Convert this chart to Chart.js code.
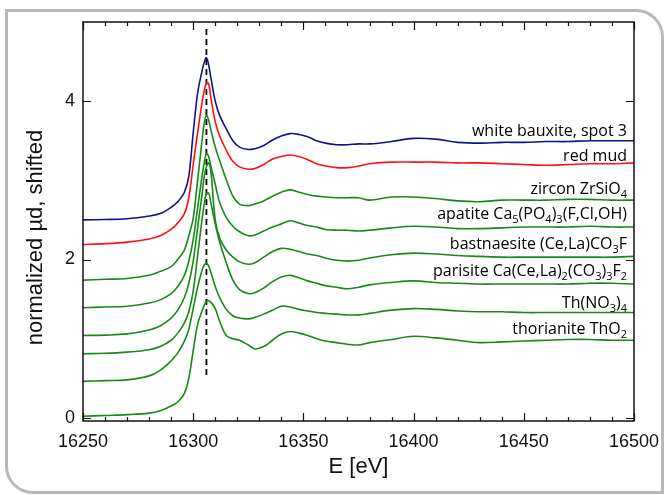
<!DOCTYPE html>
<html>
<head>
<meta charset="utf-8">
<script src="https://cdn.jsdelivr.net/npm/chart.js@4.4.0/dist/chart.umd.min.js"></script>
<style>
html,body{margin:0;padding:0;background:#fff;}
#wrap{position:relative;width:665px;height:495px;overflow:hidden;}
#frame{position:absolute;left:5px;top:9px;width:659px;height:485px;box-sizing:border-box;border:3px solid #b8b8b8;border-radius:0 28px 0 28px;}
#c{position:absolute;left:0;top:0;}
</style>
</head>
<body>
<div id="wrap"><div id="frame"></div><canvas id="c" width="665" height="495"></canvas></div>
<script>
// ---------- data ----------
const energy = [16250,16260,16270,16280,16285,16290,16293,16296,16298,16300,16302,16304,16305,16306,16307,16308,16310,16312,16315,16318,16321,16325,16328,16332,16336,16340,16344,16348,16352,16356,16360,16365,16370,16375,16380,16390,16400,16410,16420,16430,16440,16450,16460,16470,16480,16490,16500];

const whiteBauxite = [2.50,2.505,2.515,2.55,2.58,2.66,2.73,2.85,3.05,3.60,4.10,4.38,4.49,4.55,4.46,4.30,4.00,3.82,3.65,3.50,3.42,3.39,3.40,3.44,3.51,3.56,3.59,3.58,3.55,3.50,3.47,3.45,3.45,3.46,3.46,3.49,3.53,3.52,3.48,3.47,3.48,3.48,3.49,3.49,3.50,3.50,3.50];
const redMud = [2.19,2.20,2.22,2.26,2.30,2.38,2.46,2.58,2.78,3.20,3.60,3.98,4.13,4.23,4.22,4.05,3.74,3.56,3.38,3.24,3.17,3.14,3.15,3.20,3.27,3.30,3.32,3.30,3.26,3.21,3.18,3.16,3.16,3.18,3.21,3.23,3.23,3.23,3.22,3.22,3.21,3.20,3.19,3.20,3.21,3.21,3.22];
const zircon = [1.74,1.75,1.76,1.80,1.85,1.91,2.00,2.12,2.30,2.52,3.00,3.50,3.72,3.82,3.76,3.64,3.42,3.25,3.01,2.80,2.70,2.68,2.70,2.74,2.80,2.85,2.88,2.85,2.82,2.80,2.79,2.78,2.78,2.78,2.75,2.79,2.79,2.77,2.74,2.73,2.75,2.75,2.75,2.76,2.76,2.75,2.75];
const apatite = [1.39,1.40,1.41,1.45,1.49,1.57,1.66,1.80,1.98,2.25,2.65,3.05,3.22,3.34,3.30,3.18,2.95,2.72,2.53,2.42,2.35,2.30,2.31,2.36,2.41,2.45,2.49,2.46,2.43,2.41,2.38,2.37,2.37,2.36,2.37,2.40,2.42,2.41,2.39,2.39,2.40,2.41,2.41,2.41,2.42,2.41,2.41];
const bastnaesite = [1.04,1.045,1.06,1.11,1.16,1.26,1.36,1.52,1.70,1.98,2.40,2.82,3.05,3.17,3.22,3.12,2.50,2.27,2.12,2.03,1.97,1.94,1.96,2.03,2.10,2.14,2.13,2.10,2.07,2.05,2.02,1.99,1.98,1.99,2.02,2.06,2.08,2.07,2.05,2.04,2.03,2.03,2.03,2.03,2.03,2.03,2.04];
const parisite = [0.81,0.815,0.83,0.86,0.90,0.98,1.07,1.20,1.34,1.60,2.05,2.50,2.70,2.83,2.84,2.72,2.45,2.22,1.96,1.74,1.62,1.57,1.58,1.64,1.72,1.78,1.80,1.77,1.73,1.70,1.67,1.65,1.63,1.65,1.68,1.71,1.73,1.71,1.70,1.69,1.69,1.69,1.69,1.69,1.70,1.70,1.69];
const thNitrate = [0.46,0.47,0.48,0.53,0.60,0.72,0.82,0.97,1.12,1.38,1.65,1.86,1.93,1.95,1.92,1.84,1.66,1.52,1.37,1.29,1.26,1.25,1.27,1.31,1.36,1.41,1.40,1.37,1.35,1.33,1.32,1.31,1.30,1.30,1.32,1.36,1.38,1.37,1.35,1.34,1.34,1.33,1.33,1.33,1.33,1.33,1.33];
const thorianite = [0.02,0.03,0.04,0.06,0.09,0.15,0.20,0.31,0.50,0.85,1.18,1.35,1.42,1.47,1.48,1.46,1.38,1.22,1.04,1.00,0.98,0.92,0.87,0.90,0.98,1.06,1.09,1.07,1.04,1.00,0.97,0.95,0.93,0.92,0.95,0.99,1.03,1.01,0.98,0.95,0.96,0.97,0.98,0.99,0.99,0.98,0.98];

const seriesLabels = ['white bauxite, spot 3','red mud','zircon ZrSiO_4','apatite Ca_5(PO_4)_3(F,Cl,OH)','bastnaesite (Ce,La)CO_3F','parisite Ca(Ce,La)_2(CO_3)_3F_2','Th(NO_3)_4','thorianite ThO_2'];
const seriesValues = [whiteBauxite, redMud, zircon, apatite, bastnaesite, parisite, thNitrate, thorianite];

const xTickValues = [16250,16300,16350,16400,16450,16500];
const yTickValues = [0,2,4];
const edgeEnergy = 16306;
const edgeLineRange = [0.54, 4.92];

// ---------- style ----------
const seriesColors = ['#12128a','#ff1010','#168a16','#168a16','#168a16','#168a16','#168a16','#168a16'];
const labelLift = [5,2,6,8,7,8,5,6];
const axisFont = '"Liberation Sans", Arial, sans-serif';
const labelFont = '"Open Sans", "Noto Sans", sans-serif';

const datasets = seriesValues.map((vals, i) => ({
  data: energy.map((e, k) => ({x: e, y: vals[k]})),
  borderColor: seriesColors[i],
  borderWidth: 1.6,
  pointRadius: 0,
  fill: false,
  tension: 0.35
}));
datasets.push({
  data: [{x: edgeEnergy, y: edgeLineRange[0]}, {x: edgeEnergy, y: edgeLineRange[1]}],
  borderColor: '#000',
  borderWidth: 1.8,
  borderDash: [6, 4],
  pointRadius: 0,
  fill: false
});

function drawRuns(ctx, text, xRight, baseline) {
  const runs = [];
  for (let i = 0; i < text.length; i++) {
    if (text[i] === '_') { runs.push({t: text[i+1], sub: true}); i++; }
    else {
      if (runs.length && !runs[runs.length-1].sub) runs[runs.length-1].t += text[i];
      else runs.push({t: text[i], sub: false});
    }
  }
  const mainF = '16px ' + labelFont, subF = '11px ' + labelFont;
  let w = 0;
  runs.forEach(r => { ctx.font = r.sub ? subF : mainF; r.w = ctx.measureText(r.t).width; w += r.w; });
  let x = xRight - w;
  ctx.textAlign = 'left';
  ctx.textBaseline = 'alphabetic';
  runs.forEach(r => {
    ctx.font = r.sub ? subF : mainF;
    ctx.fillText(r.t, x, baseline + (r.sub ? 4 : 0));
    x += r.w;
  });
}

const decor = {
  id: 'decor',
  afterDraw(chart) {
    const {ctx, chartArea: a, scales: {x, y}} = chart;
    ctx.save();
    ctx.strokeStyle = '#111';
    ctx.lineWidth = 1.5;
    ctx.strokeRect(a.left, a.top, a.right - a.left, a.bottom - a.top);
    ctx.beginPath();
    for (let v = x.min; v <= x.max + 1e-6; v += 10) {
      const px = Math.round(x.getPixelForValue(v)) + 0.5;
      const len = (v % 50 === 0) ? 8 : 4;
      ctx.moveTo(px, a.bottom); ctx.lineTo(px, a.bottom - len);
      ctx.moveTo(px, a.top); ctx.lineTo(px, a.top + len);
    }
    yTickValues.forEach(v => {
      const py = Math.round(y.getPixelForValue(v)) + 0.5;
      ctx.moveTo(a.left, py); ctx.lineTo(a.left + 8, py);
      ctx.moveTo(a.right, py); ctx.lineTo(a.right - 8, py);
    });
    ctx.lineWidth = 1.2;
    ctx.stroke();
    // y title
    ctx.fillStyle = '#111';
    ctx.font = '22px ' + axisFont;
    ctx.translate(36, (a.top + a.bottom) / 2 + 16);
    ctx.rotate(-Math.PI / 2);
    ctx.textAlign = 'center';
    ctx.textBaseline = 'middle';
    ctx.fillText('normalized \u00b5d, shifted', 0, 0);
    ctx.restore();
    // series labels
    ctx.save();
    ctx.fillStyle = '#000';
    seriesValues.forEach((vals, i) => {
      const py = y.getPixelForValue(vals[vals.length - 1]);
      drawRuns(ctx, seriesLabels[i], a.right - 7, py - labelLift[i]);
    });
    ctx.restore();
  }
};

new Chart(document.getElementById('c'), {
  type: 'line',
  data: {datasets},
  plugins: [decor],
  options: {
    responsive: false,
    animation: false,
    devicePixelRatio: 1,
    layout: {padding: {top: 22, right: 31, left: 0, bottom: 0}},
    plugins: {legend: {display: false}, tooltip: {enabled: false}},
    scales: {
      x: {
        type: 'linear', min: 16250, max: 16500,
        afterBuildTicks: s => { s.ticks = xTickValues.map(v => ({value: v})); },
        afterFit: s => { s.height = 74; s.paddingLeft = 0; s.paddingRight = 0; },
        grid: {display: false, drawTicks: false},
        border: {display: false},
        ticks: {callback: v => String(v), font: {family: axisFont, size: 18}, color: '#111', padding: 10, maxRotation: 0, autoSkip: false},
        title: {display: true, text: 'E [eV]', font: {family: axisFont, size: 22}, color: '#111', padding: {top: 0, bottom: 15}}
      },
      y: {
        type: 'linear', min: -0.04, max: 5.0,
        afterBuildTicks: s => { s.ticks = yTickValues.map(v => ({value: v})); },
        afterFit: s => { s.width = 83; s.paddingTop = 0; s.paddingBottom = 0; },
        grid: {display: false, drawTicks: false},
        border: {display: false},
        ticks: {callback: v => String(v), font: {family: axisFont, size: 18}, color: '#111', padding: 8}
      }
    }
  }
});
</script>
</body>
</html>
